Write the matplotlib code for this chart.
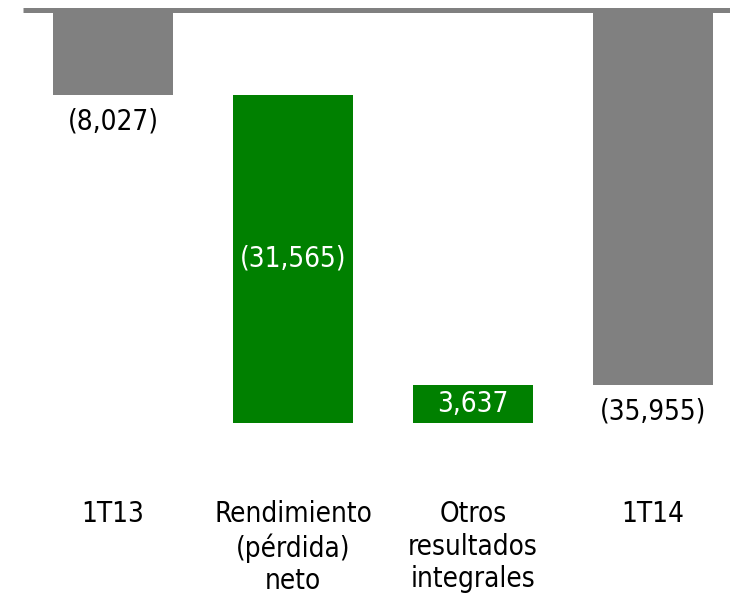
import numpy as np
import matplotlib.pyplot as plt

# datos (miles)
categorias = ["1T13", "Rendimiento\n(pérdida)\nneto", "Otros\nresultados\nintegrales", "1T14"]
valores = [-8027, -31565, 3637, -35955]
etiquetas = ["(8,027)", "(31,565)", "3,637", "(35,955)"]
es_total = [True, False, False, True]

gris = "#808080"
verde = "#008000"

plt.rcParams['font.family'] = ['DejaVu Sans']
fs = 20

# cascada: base y altura de cada barra
bases, alturas = [], []
acum = 0
for v, tot in zip(valores, es_total):
    if tot:
        bases.append(0)
        alturas.append(v)
        acum = v
    else:
        bases.append(acum)
        alturas.append(v)
        acum += v

fig = plt.figure(figsize=(7.3, 5.97), dpi=100)
ax = fig.add_axes([0, 0.198, 1, 1 - 0.198 - 12 / 597])
x = np.arange(len(valores))
colores = [gris if t else verde for t in es_total]
ax.bar(x, alturas, bottom=bases, width=0.667, color=colores, zorder=2)

ax.set_xlim(-113 / 180, (730 - 113) / 180)
ax.set_ylim(-45000, 0)

# linea del eje
ax.hlines(241, -0.5, 3.5, color=gris, lw=3.6, clip_on=False, zorder=3)

for i, (b, h, lab, tot) in enumerate(zip(bases, alturas, etiquetas, es_total)):
    if tot:
        ax.annotate(lab, (i, b + h), xytext=(0, -19), textcoords="offset points",
                    ha="center", va="center", fontsize=fs, fontstretch="condensed")
    else:
        ax.text(i, b + h / 2, lab, ha="center", va="center", color="white",
                fontsize=fs, fontstretch="condensed")

ax.set_xticks(x, categorias)
ax.tick_params(axis="x", length=0, pad=15.5, labelsize=fs)
for t in ax.get_xticklabels():
    t.set_fontstretch("condensed")
    t.set_linespacing(1.2)
ax.set_yticks([])
for s in ax.spines.values():
    s.set_visible(False)

fig.savefig("out.png", dpi=100)
